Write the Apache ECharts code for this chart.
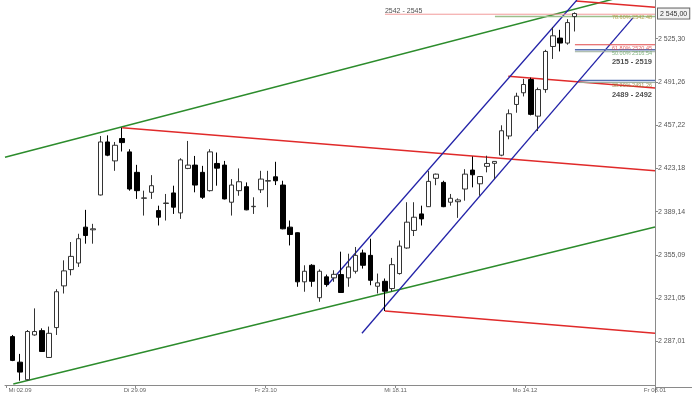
<!DOCTYPE html>
<html><head><meta charset="utf-8">
<script src="https://cdn.jsdelivr.net/npm/echarts@6/dist/echarts.min.js"></script>
<style>html,body{margin:0;padding:0;background:#fff}#c{width:700px;height:393px}</style>
</head><body><div id="c"></div>
<script>
// ---- candle data (one entry per trading session) ----
const openP = [2290.9,2270.8,2257.0,2292.2,2295.6,2274.5,2298.0,2330.8,2343.6,2348.8,2377.0,2374.9,
  2402.3,2444.0,2429.1,2446.7,2436.2,2420.1,2399.7,2404.4,2390.0,2395.6,2403.9,2388.2,2423.2,2425.8,2420.1,2405.7,2427.1,2425.8,
  2396.6,2405.7,2408.8,2393.1,2406.4,2413.2,2416.6,2410.1,2377.0,2372.6,2334.0,2347.0,2321.5,2337.9,2337.1,
  2339.7,2337.1,2342.3,2356.7,2354.8,2330.5,2334.4,2328.7,2340.5,2360.6,2374.4,2387.4,2393.1,2415.4,2412.2,2396.6,2397.0,2407.0,2421.9,2411.1,2424.8,2427.2,2433.6,2448.7,
  2473.5,2482.7,2493.1,2464.3,2485.2,2519.1,2525.7,2521.8,2542.6];
const closeP = [2272.2,2263.0,2294.9,2294.9,2279.2,2293.5,2326.2,2342.6,2354.0,2367.9,2370.4,2375.7,
  2444.0,2433.6,2441.4,2443.5,2407.0,2405.7,2400.0,2409.6,2384.8,2396.0,2392.7,2429.9,2425.8,2410.1,2400.5,2436.2,2423.4,2399.2,
  2410.1,2412.7,2390.6,2393.4,2414.8,2413.6,2413.5,2375.7,2371.2,2334.0,2342.3,2334.4,2342.3,2331.9,2339.9,
  2325.6,2345.7,2354.8,2347.0,2335.2,2333.2,2326.6,2347.5,2362.1,2380.9,2384.8,2383.5,2413.0,2418.7,2393.1,2399.7,2398.4,2418.7,2418.2,2416.8,2427.1,2428.7,2452.8,2466.2,
  2480.0,2489.2,2465.7,2485.2,2515.2,2527.5,2521.8,2537.9,2545.0];
const lowP = [2271.6,2256.2,2256.4,2291.6,2279.0,2274.3,2292.2,2324.8,2339.1,2345.7,2364.0,2364.0,
  2401.9,2432.8,2421.3,2436.5,2405.7,2399.2,2386.1,2399.2,2378.3,2382.2,2387.4,2383.5,2422.6,2404.4,2399.2,2405.0,2409.6,2398.8,
  2386.1,2401.7,2390.3,2387.4,2403.9,2392.7,2410.1,2375.3,2362.6,2330.1,2326.2,2330.1,2318.3,2330.1,2334.0,
  2325.2,2330.1,2340.5,2344.4,2331.3,2324.8,2311.0,2326.4,2339.7,2360.0,2370.0,2378.3,2392.9,2410.0,2392.7,2393.9,2384.3,2397.8,2408.3,2401.7,2420.1,2414.8,2432.8,2446.1,
  2467.0,2479.8,2464.9,2452.6,2482.7,2509.3,2515.2,2520.5,2530.9];
const highP = [2292.2,2277.3,2296.1,2313.1,2297.4,2298.8,2328.2,2350.9,2365.3,2371.8,2390.6,2379.6,
  2448.7,2449.2,2444.0,2455.3,2438.3,2426.0,2405.7,2417.9,2393.9,2403.1,2409.6,2431.2,2444.8,2433.0,2425.2,2438.3,2435.7,2429.1,
  2414.8,2423.2,2412.2,2400.5,2421.3,2421.3,2428.4,2413.5,2382.2,2372.9,2347.0,2347.9,2343.8,2339.7,2343.1,
  2357.7,2356.1,2361.4,2359.3,2367.9,2340.5,2336.6,2352.8,2366.5,2396.6,2396.6,2393.9,2421.1,2419.1,2413.5,2403.1,2399.6,2422.6,2432.6,2417.2,2433.2,2428.9,2457.1,2469.6,
  2482.7,2493.6,2494.6,2486.8,2516.5,2534.3,2532.2,2540.6,2545.9];

// ---- axes ----
const xTickPos = [-0.877, 16.75, 34.66, 52.45, 70.18, 88.0];
const xLabelPos = [1.0, 16.75, 34.66, 52.45, 70.18, 88.0];
const xLabels = ['Mi 02.09', 'Di 29.09', 'Fr 23.10', 'Mi 18.11', 'Mo 14.12', 'Fr 08.01'];
const yTicks = [2287.01, 2321.05, 2355.09, 2389.14, 2423.18, 2457.22, 2491.26, 2525.30];
const lastPrice = 2545.00;

// ---- trend lines [index, price] ----
const greenUpper = [[-1.055, 2432.02], [88.0, 2564.89]];
const greenLower = [[0.08, 2253.61], [88.0, 2377.09]];
const redLine1 = [[15.0, 2455.26], [88.0, 2421.38]];
const redLine2 = [[51.0, 2310.97], [88.0, 2293.52]];
const redLine3 = [[67.9, 2495.64], [88.0, 2486.50]];
const redLine4 = [[77.16, 2554.88], [88.0, 2549.87]];
const blueUpper = [[43.1, 2331.32], [77.3, 2555.66]];
const blueLower = [[47.85, 2293.52], [84.97, 2541.57]];

// ---- horizontal zones ----
const zonePink = [[51.0, 2544.47], [88.0, 2544.47]];
const zoneGreenTop = [[66.07, 2542.75], [88.0, 2542.75]];
const zoneRedMid = [[77.03, 2520.45], [88.0, 2520.45]];
const zoneBlueMid = [[77.03, 2516.54], [88.0, 2516.54]];
const zoneGreyMid = [[77.03, 2514.97], [88.0, 2514.97]];
const zoneBlueLow = [[77.7, 2492.28], [88.0, 2492.28]];
const zoneGreyLow = [[77.7, 2490.71], [88.0, 2490.71]];

// ---- annotations ----
const noteText = ['2542 - 2545', '78.60% 2542.48', '61.80% 2520.45', '50.00% 2516.54', '2515 - 2519', '38.20% 2491.26', '2489 - 2492'];
const noteX = [51.0, 82.1, 82.1, 82.1, 82.1, 82.1, 82.1];
const noteV = [2547.05, 2541.57, 2517.7, 2513.4, 2507.14, 2488.36, 2481.32];
const noteColor = ['#222', '#a8902a', '#e04040', '#5f9f5f', '#222', '#8a7a30', '#222'];
const noteBold = [false, false, false, false, true, false, true];
const noteSize = [7, 5.5, 5.5, 5.5, 7.5, 5.5, 7.5];

const candles = openP.map((o, i) => [i, o, closeP[i], lowP[i], highP[i]]);
const fmt = v => { const s = v.toFixed(2).replace('.', ','); return s.charAt(0) + ' ' + s.slice(1); };
const FONT = 'Liberation Sans, Arial, sans-serif';

function seg(data, color, width) {
  return { type: 'line', data, symbol: 'none', silent: true, clip: true,
    lineStyle: { color, width }, animation: false, z: 3 };
}

const chart = echarts.init(document.getElementById('c'), null, { renderer: 'canvas' });
chart.setOption({
  animation: false,
  backgroundColor: '#fff',
  grid: { left: 5, right: 45, top: 0, bottom: 6 },
  xAxis: {
    type: 'value', min: -1.055, max: 88.0,
    axisLine: { show: true, onZero: false, lineStyle: { color: '#8a8a8a', width: 1 } },
    axisTick: { show: true, customValues: xTickPos, length: 3, inside: false, lineStyle: { color: '#8a8a8a' } },
    axisLabel: { show: true, customValues: xLabelPos, fontSize: 6, color: '#666', margin: 2, fontFamily: FONT,
      formatter: v => { const k = xLabelPos.findIndex(p => Math.abs(p - v) < 0.01); return k >= 0 ? xLabels[k] : ''; } },
    splitLine: { show: false }
  },
  yAxis: {
    type: 'value', position: 'right', min: 2252.84, max: 2555.66,
    axisLine: { show: true, onZero: false, lineStyle: { color: '#8a8a8a', width: 1 } },
    axisTick: { show: true, customValues: yTicks, length: 3, lineStyle: { color: '#8a8a8a' } },
    axisLabel: { show: true, customValues: yTicks.concat([lastPrice]), fontSize: 7, color: '#555', margin: 3, fontFamily: FONT,
      formatter: v => Math.abs(v - lastPrice) < 0.001 ? '{box|' + fmt(v) + '}' : fmt(v),
      rich: { box: { fontSize: 7, color: '#333', borderColor: '#666', borderWidth: 1, backgroundColor: '#f2f2f2', padding: [2, 2, 1, 2], fontFamily: FONT } } },
    splitLine: { show: false }
  },
  graphic: [
    { type: 'line', shape: { x1: 655, y1: 387.5, x2: 692, y2: 387.5 }, style: { stroke: '#8a8a8a', lineWidth: 1 }, silent: true },
    { type: 'line', shape: { x1: 655.5, y1: 387, x2: 655.5, y2: 393 }, style: { stroke: '#8a8a8a', lineWidth: 1 }, silent: true }
  ],
  series: [
    seg(greenUpper, '#2c8c2c', 1.5),
    seg(greenLower, '#2c8c2c', 1.5),
    seg(redLine1, '#e02a2a', 1.5),
    seg(redLine2, '#e02a2a', 1.5),
    seg(redLine3, '#e02a2a', 1.5),
    seg(redLine4, '#e02a2a', 1.5),
    seg(blueUpper, '#2222a8', 1.3),
    seg(blueLower, '#2222a8', 1.3),
    seg(zonePink, '#f29a9a', 1),
    seg(zoneGreenTop, '#9cbf8c', 1.5),
    seg(zoneRedMid, '#e04848', 1),
    seg(zoneBlueMid, '#5670b0', 1.5),
    seg(zoneGreyMid, '#9aae9a', 1),
    seg(zoneBlueLow, '#5670b0', 1.5),
    seg(zoneGreyLow, '#9aae9a', 1),
    {
      type: 'candlestick', data: candles, barWidth: 5, z: 4,
      encode: { x: 0, y: [1, 2, 3, 4] },
      itemStyle: { color: '#ffffff', color0: '#000000', borderColor: '#333333', borderColor0: '#000000', borderWidth: 1 },
      silent: true
    },
    {
      type: 'scatter', symbolSize: 0, silent: true, z: 5,
      data: noteText.map((t, k) => ({
        value: [noteX[k], noteV[k]], name: t,
        label: { show: true, position: 'right', distance: 0, formatter: t, color: noteColor[k],
          fontSize: noteSize[k], fontWeight: noteBold[k] ? 'bold' : 'normal', fontFamily: FONT }
      }))
    }
  ]
});
</script>
</body></html>
